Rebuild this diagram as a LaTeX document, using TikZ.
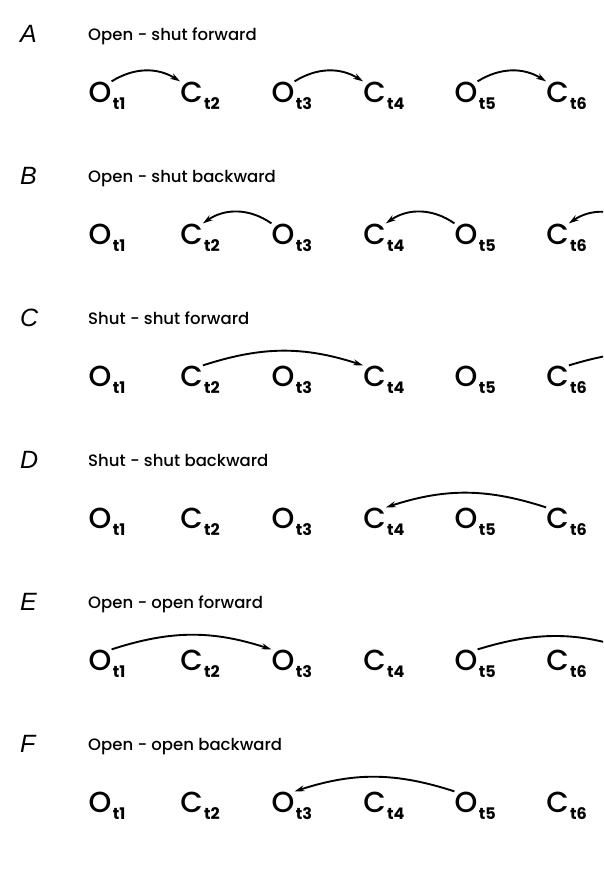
\documentclass[tikz,border=0pt]{standalone}
\usepackage{fontspec}
\setmainfont{Poppins}
\newfontfamily\statefont{Poppins Medium}
\newfontfamily\panelfont{Liberation Sans}
\usetikzlibrary{arrows.meta}

\tikzset{
  chan/.style={inner sep=0pt, anchor=base, font=\statefont\fontsize{29}{29}\selectfont,
    label={[subs]south east:t#1}},
  subs/.style={inner sep=0pt, anchor=base west, xshift=1pt, yshift=-7pt,
    font=\bfseries\fontsize{16}{16}\selectfont},
  panel/.style={inner sep=0pt, anchor=base west, font=\panelfont\itshape\fontsize{25}{25}\selectfont},
  caption/.style={inner sep=0pt, anchor=base west, font=\statefont\fontsize{16.5}{16.5}\selectfont},
  jump/.style={line width=1.9pt, -{Stealth[length=10pt,width=6pt]}},
}

\begin{document}
\begin{tikzpicture}[x=1pt,y=-1pt]
\useasboundingbox (0,0) rectangle (603,878);
\clip (0,0) rectangle (603,878);

% panel letters and captions
\foreach \p/\t [count=\k from 0] in {A/Open - shut forward,B/Open - shut backward,
    C/Shut - shut forward,D/Shut - shut backward,E/Open - open forward,F/Open - open backward}{
  \node[panel] (lab\p) at (20,{42+142*\k}) {\p};
  \node[caption] (cap\p) at (88,{40+142*\k}) {\t};
}

% the six states of each row
\foreach \r [count=\k from 0] in {a,b,c,d,e,f}
  \foreach \i/\s in {1/O,2/C,3/O,4/C,5/O,6/C}
    \node[chan=\i] (\r\i) at ({100+91.5*(\i-1)},{102+142*\k}) {\s};

% states beyond the right edge
\coordinate (b7) at (637,224);
\coordinate (c8) at (728,368);
\coordinate (e7) at (637,652);

% A: open-shut forward
\draw[jump] (a1.north east) to[bend left=32] (a2.north west);
\draw[jump] (a3.north east) to[bend left=32] (a4.north west);
\draw[jump] (a5.north east) to[bend left=32] (a6.north west);
% B: open-shut backward
\draw[jump] (b3.north west) to[bend right=35] (b2.north east);
\draw[jump] (b5.north west) to[bend right=35] (b4.north east);
\draw[jump] (b7) to[bend right=35] (b6.north east);
% C: shut-shut forward
\draw[jump] (c2.north east) to[bend left=18] (c4.north west);
\draw[jump] (c6.north east) to[bend left=18] (c8);
% D: shut-shut backward
\draw[jump] (d6.north west) to[bend right=18] (d4.north east);
% E: open-open forward
\draw[jump] (e1.north east) to[bend left=18] (e3.north west);
\draw[jump] (e5.north east) to[bend left=18] (e7);
% F: open-open backward
\draw[jump] (f5.north west) to[bend right=18] (f3.north east);
\end{tikzpicture}
\end{document}
